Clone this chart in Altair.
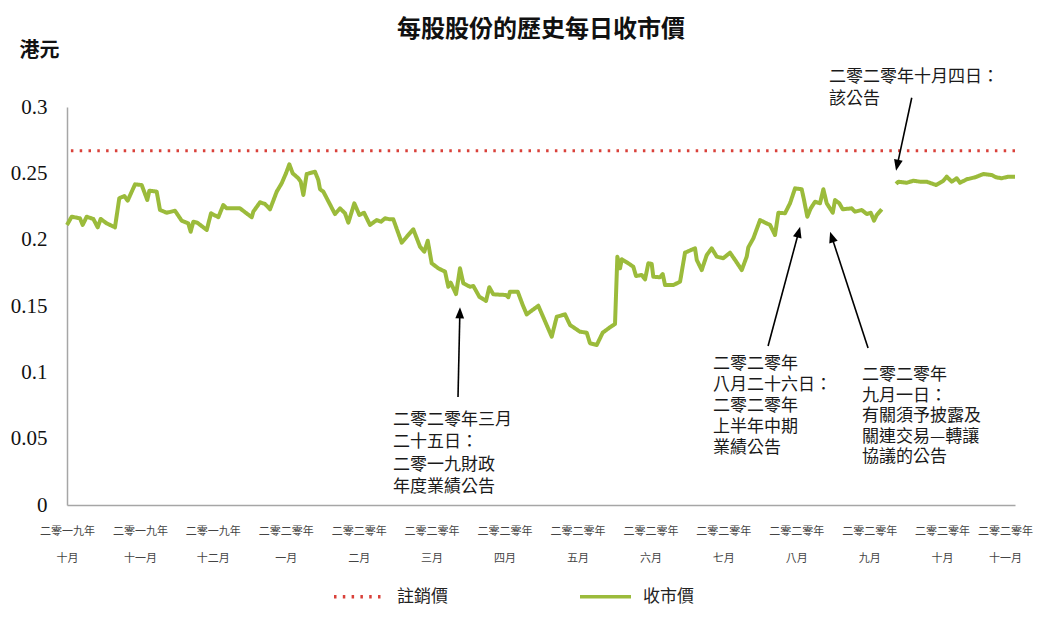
import math
import altair as alt
import pandas as pd

# ---------------- data ----------------
TITLE = "每股股份的歷史每日收市價"
Y_UNIT = "港元"
month_years = ["二零一九年"] * 3 + ["二零二零年"] * 11
month_names = ["十月", "十一月", "十二月", "一月", "二月", "三月", "四月",
               "五月", "六月", "七月", "八月", "九月", "十月", "十一月"]
y_ticks = [0, 0.05, 0.1, 0.15, 0.2, 0.25, 0.3]
series_names = ["註銷價", "收市價"]
cancel_price = 0.267

# position in months from 2019-10 (0 = 二零一九年十月 ... 13 = 二零二零年十一月)
before_pos = [0.0, 0.064, 0.178, 0.215, 0.270, 0.361, 0.421, 0.462, 0.544, 0.658,
              0.717, 0.786, 0.832, 0.933, 1.024, 1.101, 1.129, 1.230, 1.275, 1.367,
              1.481, 1.573, 1.663, 1.696, 1.732, 1.787, 1.916, 1.975, 2.075, 2.143,
              2.190, 2.372, 2.533, 2.555, 2.647, 2.715, 2.784, 2.876, 2.944, 3.003,
              3.049, 3.095, 3.172, 3.205, 3.241, 3.287, 3.401, 3.446, 3.470, 3.515,
              3.675, 3.744, 3.812, 3.858, 3.940, 4.009, 4.073, 4.155, 4.247, 4.306,
              4.361, 4.430, 4.475, 4.590, 4.659, 4.749, 4.841, 4.900, 4.947, 5.001,
              5.092, 5.184, 5.229, 5.262, 5.335, 5.389, 5.435, 5.527, 5.572, 5.654,
              5.746, 5.791, 5.846, 6.020, 6.052, 6.075, 6.181, 6.249, 6.304, 6.463,
              6.647, 6.716, 6.829, 6.898, 7.035, 7.127, 7.172, 7.264, 7.346, 7.470,
              7.515, 7.547, 7.584, 7.607, 7.697, 7.766, 7.803, 7.881, 7.927, 7.972,
              8.018, 8.040, 8.132, 8.169, 8.201, 8.315, 8.407, 8.475, 8.612, 8.636,
              8.704, 8.773, 8.841, 8.910, 9.000, 9.092, 9.161, 9.253, 9.321, 9.343,
              9.412, 9.504, 9.572, 9.641, 9.709, 9.755, 9.846, 9.915, 9.984, 10.075,
              10.107, 10.152, 10.199, 10.258, 10.326, 10.372, 10.418, 10.501, 10.532, 10.591,
              10.638, 10.761, 10.806, 10.898, 10.967, 11.022, 11.067, 11.104, 11.172]
before_close = [0.2111, 0.2173, 0.2161, 0.2111, 0.2173, 0.2156, 0.2093, 0.2156, 0.2123, 0.2093,
                0.2312, 0.2329, 0.2294, 0.2417, 0.2412, 0.2299, 0.2369, 0.2362, 0.2224, 0.2203,
                0.2218, 0.2143, 0.2123, 0.2060, 0.2135, 0.2128, 0.2073, 0.2199, 0.2169, 0.2261,
                0.2236, 0.2236, 0.2169, 0.2211, 0.2282, 0.2269, 0.2229, 0.2362, 0.2425, 0.2500,
                0.2568, 0.2500, 0.2463, 0.2437, 0.2337, 0.2495, 0.2512, 0.2450, 0.2380, 0.2362,
                0.2193, 0.2236, 0.2199, 0.2128, 0.2274, 0.2186, 0.2203, 0.2111, 0.2148, 0.2135,
                0.2161, 0.2153, 0.2153, 0.1977, 0.2022, 0.2078, 0.1947, 0.1909, 0.1992, 0.1822,
                0.1784, 0.1759, 0.1645, 0.1676, 0.1590, 0.1784, 0.1671, 0.1645, 0.1651, 0.1570,
                0.1538, 0.1641, 0.1588, 0.1583, 0.1566, 0.1608, 0.1608, 0.1508, 0.1437, 0.1502,
                0.1269, 0.1419, 0.1437, 0.1357, 0.1306, 0.1299, 0.1219, 0.1206, 0.1299, 0.1349,
                0.1364, 0.1872, 0.1784, 0.1852, 0.1822, 0.1796, 0.1726, 0.1734, 0.1701, 0.1822,
                0.1817, 0.1721, 0.1716, 0.1741, 0.1658, 0.1658, 0.1683, 0.1902, 0.1935, 0.1847,
                0.1771, 0.1884, 0.1935, 0.1872, 0.1860, 0.1902, 0.1847, 0.1771, 0.1872, 0.1942,
                0.2010, 0.2148, 0.2128, 0.2111, 0.2035, 0.2203, 0.2199, 0.2274, 0.2387, 0.2380,
                0.2299, 0.2173, 0.2236, 0.2286, 0.2274, 0.2380, 0.2274, 0.2203, 0.2299, 0.2274,
                0.2229, 0.2236, 0.2211, 0.2224, 0.2193, 0.2203, 0.2143, 0.2186, 0.2229]
after_pos = [11.369, 11.400, 11.515, 11.606, 11.698, 11.790, 11.917, 12.017, 12.064, 12.132,
             12.201, 12.246, 12.338, 12.452, 12.566, 12.681, 12.740, 12.818, 12.909, 13.0]
after_close = [0.2420, 0.2437, 0.2429, 0.2444, 0.2437, 0.2437, 0.2412, 0.2444, 0.2475, 0.2437,
               0.2463, 0.2429, 0.2455, 0.2470, 0.2495, 0.2487, 0.2470, 0.2463, 0.2475, 0.2475]

ann_text = [
    ["二零二零年三月", "二十五日：", "二零一九財政", "年度業績公告"],
    ["二零二零年", "八月二十六日：", "二零二零年", "上半年中期", "業績公告"],
    ["二零二零年", "九月一日：", "有關須予披露及", "關連交易—轉讓", "協議的公告"],
    ["二零二零年十月四日：", "該公告"],
]
ann_pos = [4.471, 8.859, 10.902, 10.450]
ann_val = [0.0701, 0.1123, 0.1040, 0.3286]
ann_line_h = [22.3, 21.0, 20.5, 22.0]
arrow_tail_pos = [5.362, 9.614, 10.985, 11.584]
arrow_tail_val = [0.0814, 0.1198, 0.1183, 0.3070]
arrow_head_pos = [5.389, 10.053, 10.464, 11.369]
arrow_head_val = [0.1490, 0.2098, 0.2060, 0.2520]

# ---------------- layout ----------------
W, H = 948, 398
XMAX, YMAX = 13, 0.3
PX_U, PX_V = W / XMAX, H / YMAX
HEAD_R = 5.5
CJK = "Noto Sans CJK TC"
RED = "#D9413A"
GREEN = "#9BBB3B"
AXIS_GRAY = "#A6A6A6"

price_df = pd.DataFrame({
    "pos": before_pos + after_pos,
    "close": before_close + after_close,
    "seg": ["a"] * len(before_pos) + ["b"] * len(after_pos),
    "series": "收市價",
})
cancel_df = pd.DataFrame({"price": [cancel_price], "series": ["註銷價"]})

rows = []
for tx, ty, hx, hy in zip(arrow_tail_pos, arrow_tail_val, arrow_head_pos, arrow_head_val):
    dxp = (hx - tx) * PX_U
    dyp = -(hy - ty) * PX_V
    L = math.hypot(dxp, dyp)
    ux, uy = dxp / L, dyp / L
    ang = math.degrees(math.atan2(ux, -uy)) % 360
    cx = hx - HEAD_R * ux / PX_U
    cy = hy + HEAD_R * uy / PX_V
    rows.append({"tx": tx, "ty": ty, "cx": cx, "cy": cy, "angle": ang})
arrow_df = pd.DataFrame(rows)

label_arr = "[" + ",".join(f"['{y}','{m}']" for y, m in zip(month_years, month_names)) + "]"
last_tick = len(month_names) - 1

xs = alt.Scale(domain=[0, XMAX], nice=False, zero=False)
ys = alt.Scale(domain=[0, YMAX], nice=False)

x_axis = alt.Axis(values=list(range(len(month_names))), labelExpr=label_arr + "[datum.value]",
                  grid=False, ticks=False, domainColor=AXIS_GRAY, domainWidth=1.5,
                  labelFont=CJK, labelFontSize=11, labelColor="#444444", labelLineHeight=27,
                  labelPadding=20, labelBaseline="top", labelFlush=False, labelOverlap=False,
                  labelBound=False, title=None,
                  labelOffset={"condition": {"test": f"datum.value === {last_tick}", "value": -10},
                               "value": 0})
y_axis = alt.Axis(values=y_ticks, format="~g", grid=False, ticks=False,
                  domainColor=AXIS_GRAY, domainWidth=1.5,
                  labelFont="Liberation Serif", labelFontSize=21, labelColor="#111111",
                  labelPadding=20, title=Y_UNIT, titleAngle=0, titleX=-28, titleY=-57,
                  titleAlign="center", titleBaseline="middle", titleFont=CJK,
                  titleFontSize=20, titleFontWeight="bold", titleColor="#111111")

legend = alt.Legend(title=None, orient="none", legendX=265, legendY=462, direction="horizontal",
                    symbolType="stroke", symbolSize=2600, symbolStrokeWidth=3.5,
                    labelFont=CJK, labelFontSize=17, labelColor="#222222", labelOffset=10,
                    columnPadding=125, padding=0)
color = alt.Color("series:N", scale=alt.Scale(domain=series_names, range=[RED, GREEN]),
                  legend=legend)
dash = alt.StrokeDash("series:N", scale=alt.Scale(domain=series_names, range=[[2.5, 6.3], [1, 0]]),
                      legend=legend)

cancel_layer = alt.Chart(cancel_df).mark_rule(strokeWidth=3).encode(
    y=alt.Y("price:Q", scale=ys, axis=y_axis), color=color, strokeDash=dash)

line_layer = alt.Chart(price_df).mark_line(strokeWidth=4, strokeJoin="round").encode(
    x=alt.X("pos:Q", scale=xs, axis=x_axis),
    y=alt.Y("close:Q", scale=ys, axis=y_axis),
    color=color, strokeDash=dash, detail="seg:N", order="pos:Q")

arrow_layer = alt.Chart(arrow_df).mark_rule(strokeWidth=1.6, color="black").encode(
    x=alt.X("tx:Q", scale=xs, axis=x_axis), y=alt.Y("ty:Q", scale=ys, axis=y_axis),
    x2="cx:Q", y2="cy:Q")

head_layer = alt.Chart(arrow_df).mark_point(
    shape="M0,-1L-0.8,1L0.8,1Z", filled=True, color="black", opacity=1, size=121, strokeWidth=0
).encode(x=alt.X("cx:Q", scale=xs, axis=x_axis), y=alt.Y("cy:Q", scale=ys, axis=y_axis),
         angle=alt.Angle("angle:Q", scale=None))

text_layers = []
for txt, p, v, lh in zip(ann_text, ann_pos, ann_val, ann_line_h):
    df = pd.DataFrame({"pos": [p], "val": [v], "text": [txt]})
    text_layers.append(alt.Chart(df).mark_text(
        align="left", baseline="top", font=CJK, fontSize=17, lineHeight=lh, color="#1a1a1a"
    ).encode(x=alt.X("pos:Q", scale=xs, axis=x_axis), y=alt.Y("val:Q", scale=ys, axis=y_axis),
             text="text"))

chart = alt.layer(cancel_layer, line_layer, arrow_layer, head_layer, *text_layers).properties(
    width=W, height=H,
    title=alt.TitleParams(TITLE, font=CJK, fontSize=24, fontWeight="bold", anchor="middle",
                          color="#111111", offset=0, dy=2, frame="group"),
    autosize=alt.AutoSizeParams(type="none"),
    padding={"left": 59, "top": 99, "right": 19, "bottom": 104},
).configure_view(stroke=None)

chart.save("out.html", embed_options={"renderer": "svg", "actions": False})
